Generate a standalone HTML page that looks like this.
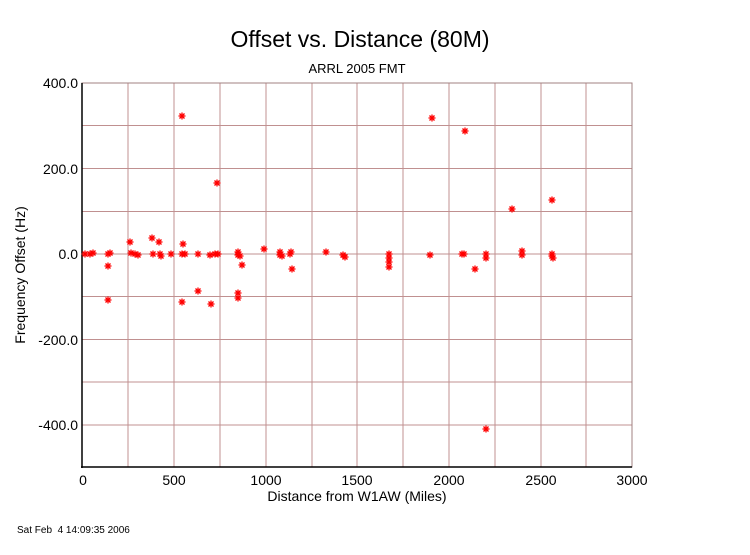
<!DOCTYPE html>
<html><head><meta charset="utf-8"><style>
body{margin:0;background:#fff;}
svg text{font-family:"Liberation Sans",sans-serif;fill:#000;}
</style></head><body>
<svg width="750" height="550" xmlns="http://www.w3.org/2000/svg">
<defs><g id="m" stroke="#f00" stroke-width="1.3"><line x1="-3.5" y1="0" x2="3.5" y2="0"/><line x1="0" y1="-3.5" x2="0" y2="3.5"/><line x1="-2.5" y1="-2.5" x2="2.5" y2="2.5"/><line x1="-2.5" y1="2.5" x2="2.5" y2="-2.5"/></g></defs>
<text x="360" y="47" font-size="23" text-anchor="middle">Offset vs. Distance (80M)</text>
<text x="357" y="73" font-size="13" text-anchor="middle">ARRL 2005 FMT</text>
<g stroke="#c09090" stroke-width="1">
<line x1="128" y1="83" x2="128" y2="467"/><line x1="174" y1="83" x2="174" y2="467"/><line x1="220" y1="83" x2="220" y2="467"/><line x1="266" y1="83" x2="266" y2="467"/><line x1="312" y1="83" x2="312" y2="467"/><line x1="357" y1="83" x2="357" y2="467"/><line x1="403" y1="83" x2="403" y2="467"/><line x1="449" y1="83" x2="449" y2="467"/><line x1="495" y1="83" x2="495" y2="467"/><line x1="541" y1="83" x2="541" y2="467"/><line x1="586" y1="83" x2="586" y2="467"/>
<line x1="82" y1="125.5" x2="632" y2="125.5"/><line x1="82" y1="168.5" x2="632" y2="168.5"/><line x1="82" y1="211.5" x2="632" y2="211.5"/><line x1="82" y1="254" x2="632" y2="254"/><line x1="82" y1="296.5" x2="632" y2="296.5"/><line x1="82" y1="339.5" x2="632" y2="339.5"/><line x1="82" y1="382" x2="632" y2="382"/><line x1="82" y1="425" x2="632" y2="425"/>
<rect x="82" y="83" width="550" height="384" fill="none" stroke="#a08080"/>
</g>
<line x1="82" y1="83" x2="82" y2="468" stroke="#000" stroke-width="1.5"/>
<line x1="81" y1="467" x2="632" y2="467" stroke="#000" stroke-width="1.5"/>
<g font-size="14" text-anchor="end">
<text x="78" y="88">400.0</text><text x="78" y="174">200.0</text><text x="78" y="259">0.0</text><text x="78" y="345">-200.0</text><text x="78" y="430">-400.0</text></g>
<g font-size="14" text-anchor="middle">
<text x="83" y="485">0</text><text x="174" y="485">500</text><text x="266" y="485">1000</text><text x="357" y="485">1500</text><text x="449" y="485">2000</text><text x="541" y="485">2500</text><text x="632" y="485">3000</text></g>
<text x="357" y="501" font-size="14" text-anchor="middle">Distance from W1AW (Miles)</text>
<text transform="translate(25,275) rotate(-90)" font-size="14" text-anchor="middle">Frequency Offset (Hz)</text>
<text x="17" y="533" font-size="10" style="white-space:pre" xml:space="preserve">Sat Feb  4 14:09:35 2006</text>
<g>
<use href="#m" x="85" y="254"/><use href="#m" x="90" y="254"/><use href="#m" x="93" y="253"/><use href="#m" x="108" y="254"/><use href="#m" x="110" y="253"/><use href="#m" x="108" y="266"/><use href="#m" x="108" y="300"/><use href="#m" x="130" y="242"/><use href="#m" x="131" y="253"/><use href="#m" x="135" y="254"/><use href="#m" x="138" y="255"/><use href="#m" x="152" y="238"/><use href="#m" x="153" y="254"/><use href="#m" x="159" y="242"/><use href="#m" x="160" y="254"/><use href="#m" x="161" y="256"/><use href="#m" x="171" y="254"/><use href="#m" x="182" y="116"/><use href="#m" x="183" y="244"/><use href="#m" x="182" y="254"/><use href="#m" x="182" y="302"/><use href="#m" x="185" y="254"/><use href="#m" x="198" y="254"/><use href="#m" x="198" y="291"/><use href="#m" x="210" y="255"/><use href="#m" x="211" y="304"/><use href="#m" x="215" y="254"/><use href="#m" x="217" y="183"/><use href="#m" x="218" y="254"/><use href="#m" x="238" y="252"/><use href="#m" x="238" y="255"/><use href="#m" x="240" y="256"/><use href="#m" x="238" y="293"/><use href="#m" x="238" y="298"/><use href="#m" x="242" y="265"/><use href="#m" x="264" y="249"/><use href="#m" x="280" y="252"/><use href="#m" x="280" y="255"/><use href="#m" x="282" y="256"/><use href="#m" x="290" y="254"/><use href="#m" x="291" y="252"/><use href="#m" x="292" y="269"/><use href="#m" x="326" y="252"/><use href="#m" x="343" y="255"/><use href="#m" x="345" y="257"/><use href="#m" x="389" y="254"/><use href="#m" x="389" y="258"/><use href="#m" x="389" y="262"/><use href="#m" x="389" y="267"/><use href="#m" x="430" y="255"/><use href="#m" x="432" y="118"/><use href="#m" x="462" y="254"/><use href="#m" x="464" y="254"/><use href="#m" x="465" y="131"/><use href="#m" x="475" y="269"/><use href="#m" x="486" y="254"/><use href="#m" x="486" y="258"/><use href="#m" x="486" y="429"/><use href="#m" x="512" y="209"/><use href="#m" x="522" y="251"/><use href="#m" x="522" y="255"/><use href="#m" x="552" y="200"/><use href="#m" x="552" y="254"/><use href="#m" x="552" y="256"/><use href="#m" x="553" y="258"/>
</g>
</svg>
</body></html>
